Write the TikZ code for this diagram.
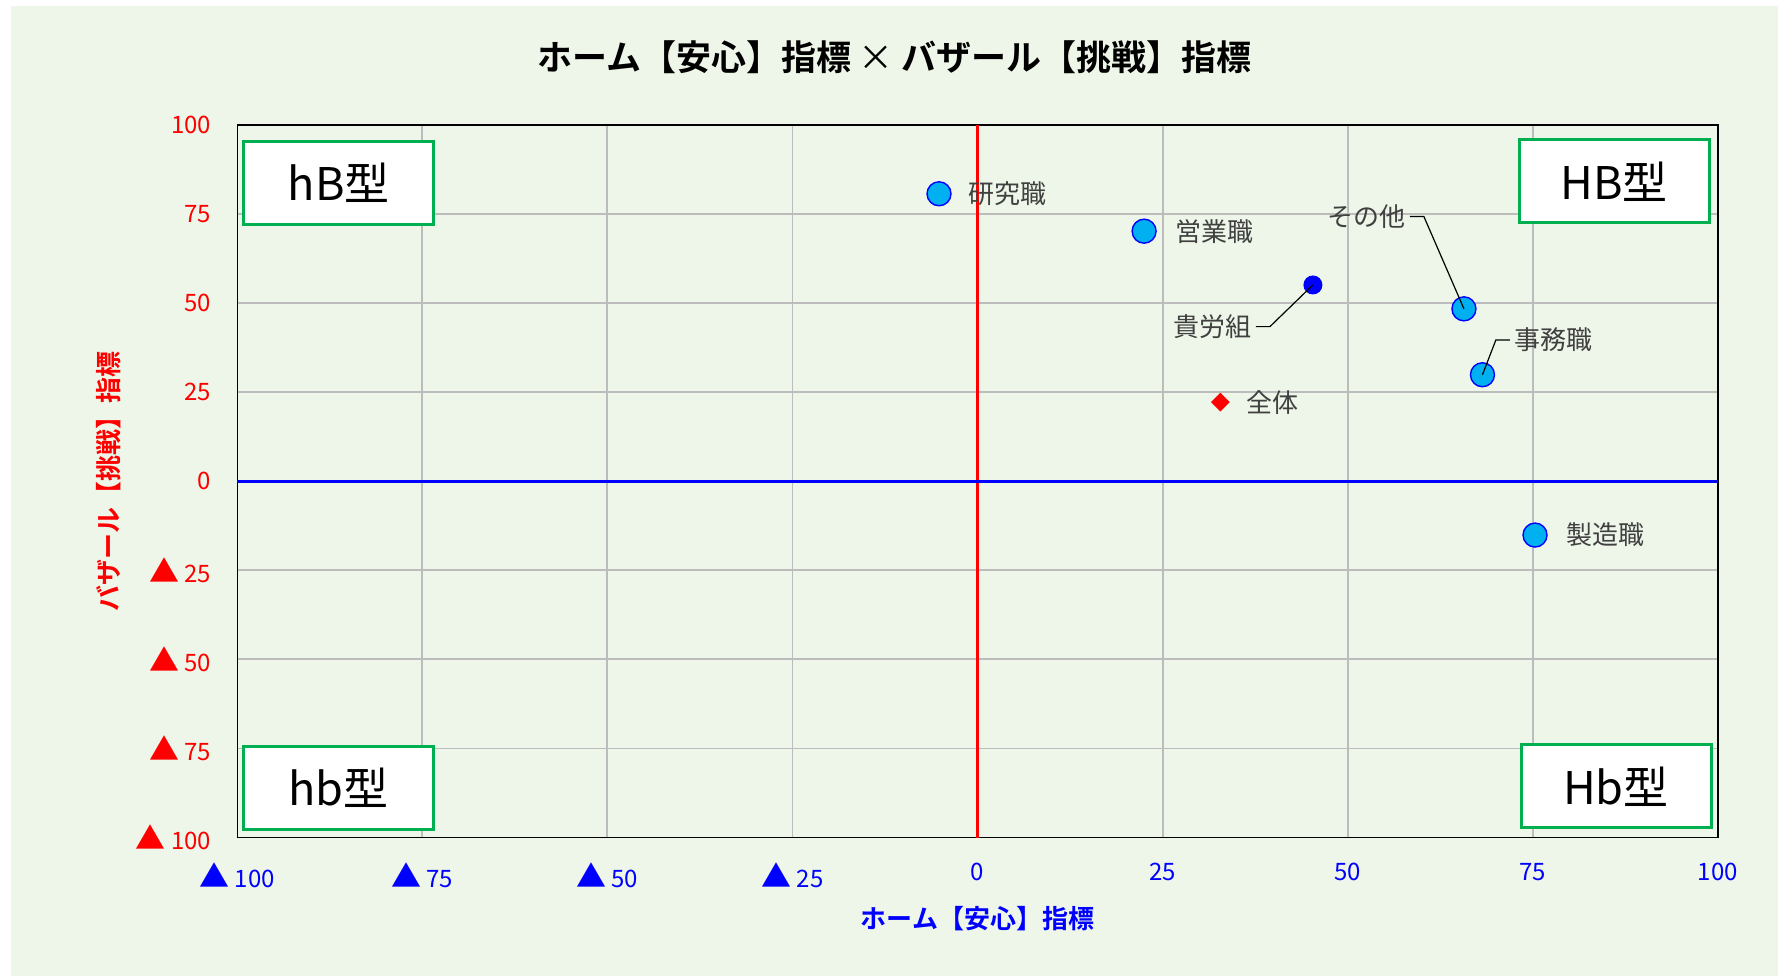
\documentclass[tikz,border=0pt]{standalone}
\usepackage{fontspec}
\setmainfont{Noto Sans CJK JP}[BoldFont={Noto Sans CJK JP Bold}]
\usetikzlibrary{shapes.geometric}
\usetikzlibrary{positioning}

\definecolor{chartbg}{RGB}{238,246,233}
\definecolor{gridgray}{RGB}{188,188,188}
\definecolor{dotblue}{RGB}{0,176,240}
\definecolor{boxgreen}{RGB}{0,176,80}
\definecolor{labelgray}{RGB}{64,64,64}
\newcommand{\negmark}{{\fontsize{15}{15}\selectfont ▲}}

\begin{document}
\begin{tikzpicture}[x=0.5pt, y=-0.5pt,
  data/.style={shift={(977.5,481.25)}, x=3.702pt, y=1.78125pt},
  job/.style={circle, fill=dotblue, draw=blue, line width=0.7pt, minimum size=12pt, inner sep=0pt},
  union/.style={circle, fill=blue, minimum size=9.5pt, inner sep=0pt},
  total/.style={diamond, fill=red, minimum size=9.5pt, inner sep=0pt},
  tag/.style={text=labelgray, font=\fontsize{13}{15}\selectfont, inner sep=2pt},
  quad/.style={draw=boxgreen, line width=1.5pt, fill=white, minimum width=95pt, minimum height=41.5pt, inner sep=0pt, font=\fontsize{22.5}{26}\selectfont},
  ytick/.style={anchor=east, text=red, font=\fontsize{12}{14}\selectfont, inner sep=0pt},
  xtick/.style={anchor=base, text=blue, font=\fontsize{12}{14}\selectfont, inner sep=0pt},
  leader/.style={black, line width=0.6pt}]

\useasboundingbox (0,0) rectangle (1778,976);
\fill[chartbg] (11,6) rectangle (1778,976);

\node[font=\bfseries\fontsize{17.5}{20}\selectfont] (title) at (894.5,57.5) {ホーム【安心】指標 {\mdseries ×} バザール【挑戦】指標};
\node[text=blue, font=\bfseries\fontsize{13}{15}\selectfont] (xtitle) at (977.6,918.3) {ホーム【安心】指標};
\node[text=red, font=\bfseries\fontsize{13}{15}\selectfont, rotate=90] (ytitle) at (108.5,481) {バザール【挑戦】指標};

\begin{scope}[data]
% grid and axes
\foreach \v in {-75,-50,...,75}
{
\draw[gridgray, line width=0.9pt] (\v,-100) -- (\v,100);
\draw[gridgray, line width=0.9pt] (-100,\v) -- (100,\v);
}
\draw[line width=0.6pt] (-100,-100) rectangle (100,100);
\draw[red, line width=1.7pt] (0,-100) -- (0,100);
\draw[blue, line width=1.7pt] (-100,0) -- (100,0);

% tick labels
\foreach \v in {0,25,50,75,100}
{
\node[ytick] (y\v) at ([xshift=-12.8pt]-100,\v) {\v};
\node[xtick] (x\v) at (\v,-112.2) {\v};
}
\foreach \v in {25,50,75,100}
{
\node[ytick] (ym\v) at ([xshift=-12.8pt]-100,-\v) {\negmark\ \v};
\node[xtick] (xm\v) at (-\v,-113.9) {\negmark\ \v};
}
\end{scope}

\node[quad] (hB) at (338.7,182.7) {hB型};
\node[quad] (HB) at (1614.3,181.3) {HB型};
\node[quad] (hb) at (338.7,787.5) {hb型};
\node[quad] (Hb) at (1616,786.3) {Hb型};

\begin{scope}[data]
\node[job] (kenkyu) at (-5.2,80.7) {};
\node[job] (eigyo) at (22.5,70.2) {};
\node[union] (kumiai) at (45.3,55.1) {};
\node[total] (zentai) at (32.8,22.2) {};
\node[job] (sonota) at (65.7,48.4) {};
\node[job] (jimu) at (68.2,29.9) {};
\node[job] (seizo) at (75.3,-15.1) {};

\node[tag, right=6.3pt of kenkyu] (kenkyu-l) {研究職};
\node[tag, right=7pt of eigyo] (eigyo-l) {営業職};
\node[tag, right=6pt of zentai] (zentai-l) {全体};
\node[tag, right=7pt of seizo] (seizo-l) {製造職};
\node[tag, anchor=east] (kumiai-l) at (37.6,43.4) {貴労組};
\node[tag, anchor=east] (sonota-l) at (58.4,74.3) {その他};
\node[tag, anchor=west] (jimu-l) at (71.9,39.65) {事務職};

\draw[leader] (kumiai-l.east) -- ++(7pt,0) -- (kumiai.center);
\draw[leader] (sonota-l.east) -- ++(7pt,0) -- (sonota.center);
\draw[leader] (jimu-l.west) -- ++(-7pt,0) -- (jimu.center);
\end{scope}
\end{tikzpicture}
\end{document}
